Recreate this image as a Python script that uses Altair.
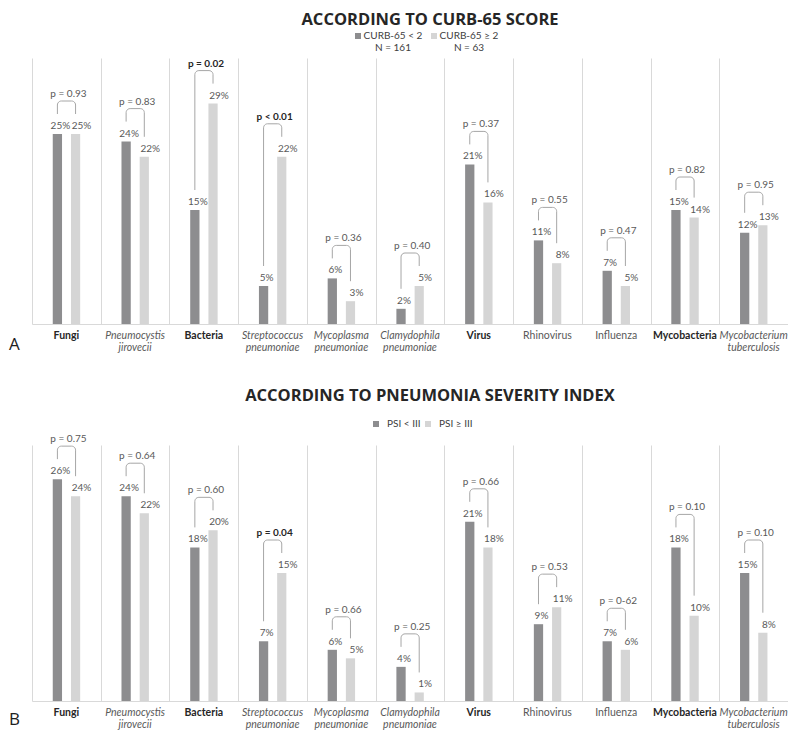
import math
import altair as alt
import pandas as pd

# ---------------- data ----------------
categories = ["Fungi", "Pneumocystis\njirovecii", "Bacteria", "Streptococcus\npneumoniae",
              "Mycoplasma\npneumoniae", "Clamydophila\npneumoniae", "Virus", "Rhinovirus",
              "Influenza", "Mycobacteria", "Mycobacterium\ntuberculosis"]
label_styles = ["bold", "italic", "bold", "italic", "italic", "italic",
                "bold", "normal", "normal", "bold", "italic"]

curb_groups = ["CURB-65 < 2", "CURB-65 ≥ 2"]
curb_n = ["N = 161", "N = 63"]
curb_low = [25, 24, 15, 5, 6, 2, 21, 11, 7, 15, 12]
curb_high = [25, 22, 29, 22, 3, 5, 16, 8, 5, 14, 13]
curb_p = ["p = 0.93", "p = 0.83", "p = 0.02", "p < 0.01", "p = 0.36", "p = 0.40",
          "p = 0.37", "p = 0.55", "p = 0.47", "p = 0.82", "p = 0.95"]
curb_p_bold = [False, False, True, True, False, False, False, False, False, False, False]

psi_groups = ["PSI < III", "PSI ≥ III"]
psi_low = [26, 24, 18, 7, 6, 4, 21, 9, 7, 18, 15]
psi_high = [24, 22, 20, 15, 5, 1, 18, 11, 6, 10, 8]
psi_p = ["p = 0.75", "p = 0.64", "p = 0.60", "p = 0.04", "p = 0.66", "p = 0.25",
         "p = 0.66", "p = 0.53", "p = 0-62", "p = 0.10", "p = 0.10"]
psi_p_bold = [False, False, False, True, False, False, False, False, False, False, False]

# ---------------- style ----------------
DARK = "#8d8d8f"
LIGHT = "#d5d5d5"
GRID = "#d9d9d9"
BRACKET = "#a6a6a6"
TXT = "#595959"
DARKTXT = "#262626"
FONT = "Lato"
TFONT = "Open Sans"
W = 756


def panel(title, groups, legend_expr, low, high, pvals, pbold, ymax, H,
          letter, letter_dy, legend_x, legend_y, title_offset, multiline_legend, col_pad):
    n = len(categories)
    band = W / n
    ppu = H / ymax
    xs = alt.Scale(domain=[0, n], nice=False, zero=False)
    ys = alt.Scale(domain=[0, ymax], nice=False, zero=True)

    # bars
    rows = []
    for i in range(n):
        for k, (g, v, a, b) in enumerate(((groups[0], low[i], 0.302, 0.437),
                                          (groups[1], high[i], 0.567, 0.701))):
            rows.append(dict(cat=i, gi=k, group=g, value=v, x0=i + a, x1=i + b,
                             xc=i + (a + b) / 2, lab=f"{v}%"))
    bars_df = pd.DataFrame(rows)

    # brackets (derived from the values)
    brows, prow = [], []
    rx = 4 / band
    ry = 4 / ppu
    for i in range(n):
        xl = i + (0.302 + 0.437) / 2
        xr = i + (0.567 + 0.701) / 2
        top = max(low[i], high[i]) + 33 / ppu
        bl = min(low[i] + 20 / ppu, top - 12 / ppu)
        br = min(high[i] + 20 / ppu, top - 12 / ppu)
        pts = [(xl, bl), (xl, top - ry)]
        for k in range(1, 6):
            t = math.pi - k * (math.pi / 2) / 6
            pts.append((xl + rx + rx * math.cos(t), top - ry + ry * math.sin(t)))
        pts += [(xl + rx, top), (xr - rx, top)]
        for k in range(1, 6):
            t = math.pi / 2 - k * (math.pi / 2) / 6
            pts.append((xr - rx + rx * math.cos(t), top - ry + ry * math.sin(t)))
        pts += [(xr, top - ry), (xr, br)]
        for j, (px, py) in enumerate(pts):
            brows.append(dict(cat=i, ord=j, bx=px, by=py))
        prow.append(dict(cat=i, px=(xl + xr) / 2, py=top, p=pvals[i], bold=pbold[i]))
    br_df = pd.DataFrame(brows)
    p_df = pd.DataFrame(prow)

    cat_df = pd.DataFrame(dict(cx=[i + 0.5 for i in range(n)], name=categories, style=label_styles))

    leg_kw = dict(orient="none", legendX=legend_x, legendY=legend_y,
                  direction="horizontal", title=None, labelExpr=legend_expr,
                  symbolType="square", symbolSize=36, symbolStrokeWidth=0,
                  labelFont=FONT, labelFontSize=10, labelColor="#404040",
                  columnPadding=col_pad, padding=0, labelBaseline="middle")
    if multiline_legend:
        leg_kw.update(labelAlign="center", labelOffset=30)
    else:
        leg_kw.update(labelOffset=6)

    bars = alt.Chart(bars_df).mark_bar().encode(
        x=alt.X("x0:Q", scale=xs,
                axis=alt.Axis(values=list(range(n + 1)), grid=True, gridColor=GRID, gridWidth=1,
                              labels=False, ticks=False, domain=True, domainColor=GRID, title=None)),
        x2="x1",
        y=alt.Y("value:Q", scale=ys, axis=None),
        y2=alt.datum(0),
        color=alt.Color("group:N", scale=alt.Scale(domain=groups, range=[DARK, LIGHT]),
                        legend=alt.Legend(**leg_kw)),
    )

    def pct_layer(gi, dx):
        return alt.Chart(bars_df).transform_filter(f"datum.gi == {gi}").mark_text(
            font=FONT, fontSize=10, color=TXT, baseline="bottom", dx=dx, dy=-3).encode(
            x=alt.X("xc:Q", scale=xs), y=alt.Y("value:Q", scale=ys), text="lab:N")

    brk = alt.Chart(br_df).mark_line(color=BRACKET, strokeWidth=1).encode(
        x=alt.X("bx:Q", scale=xs), y=alt.Y("by:Q", scale=ys),
        detail="cat:N", order="ord:Q")

    ptxt_n = alt.Chart(p_df).transform_filter("!datum.bold").mark_text(
        font=FONT, fontSize=10, color=TXT, baseline="bottom", dx=2, dy=-2).encode(
        x=alt.X("px:Q", scale=xs), y=alt.Y("py:Q", scale=ys), text="p:N")
    ptxt_b = alt.Chart(p_df).transform_filter("datum.bold").mark_text(
        font=FONT, fontSize=10, color=DARKTXT, fontWeight="bold", baseline="bottom", dx=2, dy=-2).encode(
        x=alt.X("px:Q", scale=xs), y=alt.Y("py:Q", scale=ys), text="p:N")

    def cat_layer(style):
        kw = dict(font=FONT, fontSize=10.5, baseline="top", align="center", lineBreak="\n",
                  lineHeight=11.5, y=H + 7)
        if style == "bold":
            kw.update(fontWeight="bold", color=DARKTXT)
        elif style == "italic":
            kw.update(fontStyle="italic", color=TXT)
        else:
            kw.update(color=TXT)
        return alt.Chart(cat_df).transform_filter(f"datum.style == '{style}'").mark_text(**kw).encode(
            x=alt.X("cx:Q", scale=xs), text="name:N")

    let = alt.Chart(pd.DataFrame({"t": [letter]})).mark_text(
        font=TFONT, fontSize=17, color="#202020", align="left", baseline="middle").encode(
        x=alt.value(-23), y=alt.value(H + letter_dy), text="t:N")

    return alt.layer(bars, pct_layer(0, 3), pct_layer(1, 6), brk, ptxt_n, ptxt_b,
                     cat_layer("bold"), cat_layer("italic"), cat_layer("normal"), let).properties(
        width=W, height=H,
        title=alt.TitleParams(text=title, font=TFONT, fontSize=16.5, fontWeight="bold",
                              color=DARKTXT, anchor="middle", frame="group", baseline="bottom",
                              offset=title_offset, dx=20),
    )


curb_expr = (f"datum.label == '{curb_groups[0]}' ? ['{curb_groups[0]}', '{curb_n[0]}'] : "
             f"['{curb_groups[1]}', '{curb_n[1]}']")
psi_expr = "datum.label"

chartA = panel("ACCORDING TO CURB-65 SCORE", curb_groups, curb_expr, curb_low, curb_high,
               curb_p, curb_p_bold, 35, 266, "A", 21, 321, -27, -13, True, 6)
chartB = panel("ACCORDING TO PNEUMONIA SEVERITY INDEX", psi_groups, psi_expr, psi_low, psi_high,
               psi_p, psi_p_bold, 30, 256, "B", 19, 339, -26, -1, False, 2)

chart = alt.vconcat(chartA, chartB, spacing=34).resolve_scale(
    x="independent", y="independent", color="independent"
).configure_view(stroke=None).properties(
    padding={"left": 1, "top": 3, "right": 0, "bottom": 0})

chart.save("out.html", embed_options={"renderer": "svg", "actions": False})
